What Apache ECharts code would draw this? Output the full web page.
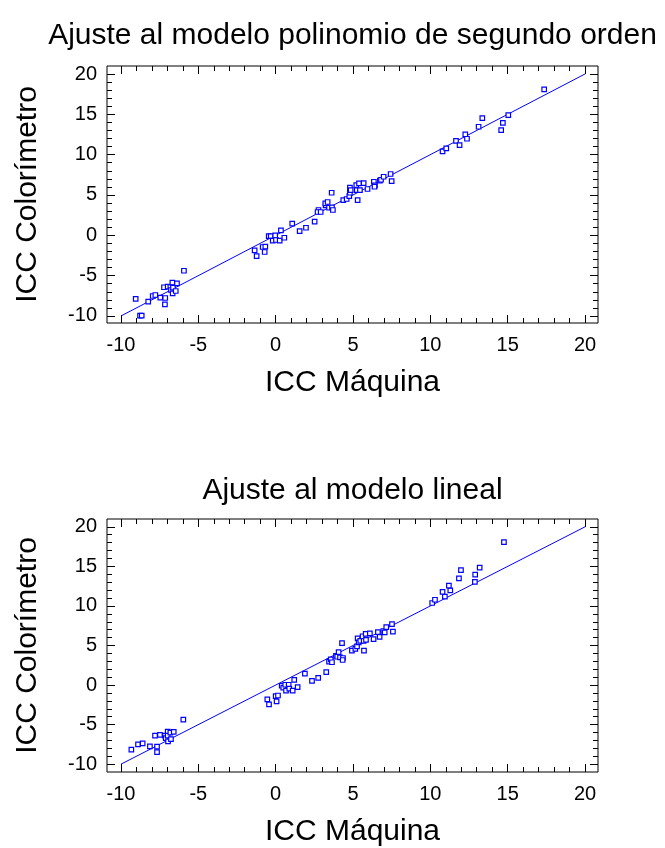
<!DOCTYPE html>
<html>
<head>
<meta charset="utf-8">
<script src="https://cdn.jsdelivr.net/npm/echarts@6/dist/echarts.min.js"></script>
<style>html,body{margin:0;padding:0;background:#fff}#c{width:665px;height:848px}</style>
</head>
<body>
<div id="c"></div>
<script>
// ---- Data ----
const titleTop = 'Ajuste al modelo polinomio de segundo orden';
const titleBottom = 'Ajuste al modelo lineal';
const xName = 'ICC Máquina';
const yName = 'ICC Colorímetro';
const majorTicks = [-10, -5, 0, 5, 10, 15, 20];
const minorTicks = [-9,-8,-7,-6,-4,-3,-2,-1,1,2,3,4,6,7,8,9,11,12,13,14,16,17,18,19];
const fitLineX = [-10, 20];
const fitLineY = [-10, 20];

// Top plot: second-order polynomial model
const topMaquina = [
  -9.05,-8.77,-8.66,-8.24,-7.95,-7.78,-7.46,-7.22,-7.14,-7.16,-6.98,-6.81,-6.77,-6.68,-6.66,-6.64,-6.46,-6.38,-5.93,
  -1.36,-1.23,-0.84,-0.67,-0.71,-0.45,-0.32,-0.19,-0.03,0.02,0.26,0.34,0.56,1.07,1.55,1.96,2.52,2.77,2.71,2.91,
  3.23,3.21,3.36,3.45,3.64,3.70,3.62,4.37,4.59,4.76,4.80,4.80,4.85,5.21,5.24,5.39,5.45,5.30,5.69,5.94,
  6.35,6.42,6.39,6.74,6.81,6.98,7.43,7.50,
  10.79,11.03,11.66,11.89,12.26,12.37,13.12,13.36,14.58,14.69,15.04,17.36
];
const topColorimetro = [
  -7.89,-9.96,-9.96,-8.23,-7.52,-7.40,-7.73,-6.44,-7.77,-8.55,-6.37,-6.41,-6.78,-5.87,-7.19,-6.49,-6.90,-5.95,-4.39,
  -1.86,-2.57,-1.45,-1.41,-2.07,-0.09,-0.09,-0.67,0.00,-0.58,-0.67,0.62,-0.30,1.44,0.53,0.94,1.69,3.14,2.89,2.89,
  3.72,3.97,4.13,3.42,3.47,3.14,5.28,4.37,4.50,4.87,5.28,5.90,5.61,6.23,5.61,6.44,5.61,4.37,6.48,5.74,
  6.64,6.20,6.02,6.77,6.89,7.26,7.60,6.73,
  10.41,10.78,11.72,11.19,12.52,11.97,13.46,14.54,13.05,13.95,14.91,18.09
];

// Bottom plot: linear model
const botMaquina = [
  -9.33,-8.90,-8.60,-8.13,-7.67,-7.67,-7.80,-7.48,-7.16,-7.11,-6.98,-6.98,-6.96,-6.81,-6.77,-6.59,-5.97,
  -0.54,-0.43,0.00,0.15,0.06,0.39,0.49,0.62,0.67,0.84,0.88,1.10,1.20,1.42,1.89,2.35,2.75,3.27,3.45,3.56,3.64,
  3.90,3.98,4.07,4.16,4.35,4.33,4.29,4.93,5.15,5.26,5.30,5.37,5.47,5.62,5.69,5.71,5.82,5.84,6.09,6.33,
  6.61,6.72,6.96,7.05,7.15,7.52,7.58,
  10.12,10.30,10.94,10.79,11.29,11.20,11.85,11.98,12.88,12.90,13.19,14.76
];
const botColorimetro = [
  -8.15,-7.49,-7.37,-7.74,-7.78,-8.48,-6.38,-6.30,-6.38,-6.70,-5.89,-6.38,-7.12,-6.01,-6.83,-5.93,-4.36,
  -1.81,-2.43,-1.39,-1.32,-2.06,-0.09,-0.33,0.04,-0.70,0.04,-0.46,-0.70,0.65,-0.25,1.44,0.53,0.90,1.64,2.96,3.25,2.88,
  3.70,3.58,4.16,3.49,3.42,3.17,5.31,4.36,4.57,4.90,5.89,5.40,5.59,6.17,5.59,4.36,6.46,5.72,6.54,5.80,
  6.70,6.09,6.83,6.67,7.32,7.69,6.75,
  10.37,10.78,11.19,11.77,11.98,12.56,13.49,14.53,13.05,13.95,14.85,18.06
];

// ---- Chart ----
const FONT = '"Liberation Sans", Arial, Helvetica, sans-serif';
const BLUE = '#0000ff';
const grids = [
  {left: 107, top: 66, width: 491, height: 257, xmin: -10.905, xmax: 20.84, ymin: -10.87, ymax: 20.99},
  {left: 107, top: 519, width: 491, height: 259, xmin: -10.905, xmax: 20.84, ymin: -10.99, ymax: 20.99}
];

const xAxes = [], yAxes = [], series = [];
function tickAxis(kind, gi, g, pos, values, len, main) {
  const isX = kind === 'x';
  const ax = {
    type: 'value', gridIndex: gi, position: pos,
    min: isX ? g.xmin : g.ymin, max: isX ? g.xmax : g.ymax,
    axisLine: {show: false, onZero: false}, splitLine: {show: false},
    axisTick: {show: true, inside: true, length: len, customValues: values, lineStyle: {color: '#000', width: 1}},
    axisLabel: main ? {show: true, customValues: majorTicks, fontSize: 20, color: '#000', fontFamily: FONT, margin: isX ? 12 : 10}
                    : {show: false}
  };
  if (main) {
    ax.name = isX ? xName : yName;
    ax.nameLocation = 'middle';
    ax.nameGap = isX ? 45 : 64;
    ax.nameTextStyle = {fontSize: 30, color: '#000', fontFamily: FONT};
  }
  return ax;
}

const gridOpts = grids.map((g, gi) => {
  xAxes.push(tickAxis('x', gi, g, 'bottom', majorTicks, 8, true));
  xAxes.push(tickAxis('x', gi, g, 'bottom', minorTicks, 5, false));
  xAxes.push(tickAxis('x', gi, g, 'top', majorTicks, 8, false));
  xAxes.push(tickAxis('x', gi, g, 'top', minorTicks, 5, false));
  yAxes.push(tickAxis('y', gi, g, 'left', majorTicks, 8, true));
  yAxes.push(tickAxis('y', gi, g, 'left', minorTicks, 5, false));
  yAxes.push(tickAxis('y', gi, g, 'right', majorTicks, 8, false));
  yAxes.push(tickAxis('y', gi, g, 'right', minorTicks, 5, false));
  return {left: g.left, top: g.top, width: g.width, height: g.height,
          show: true, borderColor: '#000', borderWidth: 1, backgroundColor: 'transparent',
          containLabel: false};
});

function pairs(xs, ys) { return xs.map((x, i) => [x, ys[i]]); }

[[topMaquina, topColorimetro], [botMaquina, botColorimetro]].forEach((d, gi) => {
  series.push({
    type: 'line', xAxisIndex: gi * 4, yAxisIndex: gi * 4,
    data: pairs(fitLineX, fitLineY), symbol: 'none', silent: true,
    lineStyle: {color: BLUE, width: 1}, z: 2, animation: false
  });
  series.push({
    type: 'scatter', xAxisIndex: gi * 4, yAxisIndex: gi * 4,
    data: pairs(d[0], d[1]), symbol: 'rect', symbolSize: 4.5,
    itemStyle: {color: '#ffffff', borderColor: BLUE, borderWidth: 1.2, opacity: 1},
    z: 3, animation: false
  });
});

const chart = echarts.init(document.getElementById('c'), null, {renderer: 'canvas'});
chart.setOption({
  animation: false,
  backgroundColor: '#fff',
  grid: gridOpts,
  xAxis: xAxes,
  yAxis: yAxes,
  series: series,
  graphic: [
    {type: 'text', x: 352.5, y: 36, style: {text: titleTop, font: '30px ' + FONT, fill: '#000', align: 'center', verticalAlign: 'middle'}},
    {type: 'text', x: 352.5, y: 491, style: {text: titleBottom, font: '30px ' + FONT, fill: '#000', align: 'center', verticalAlign: 'middle'}}
  ]
});
</script>
</body>
</html>
